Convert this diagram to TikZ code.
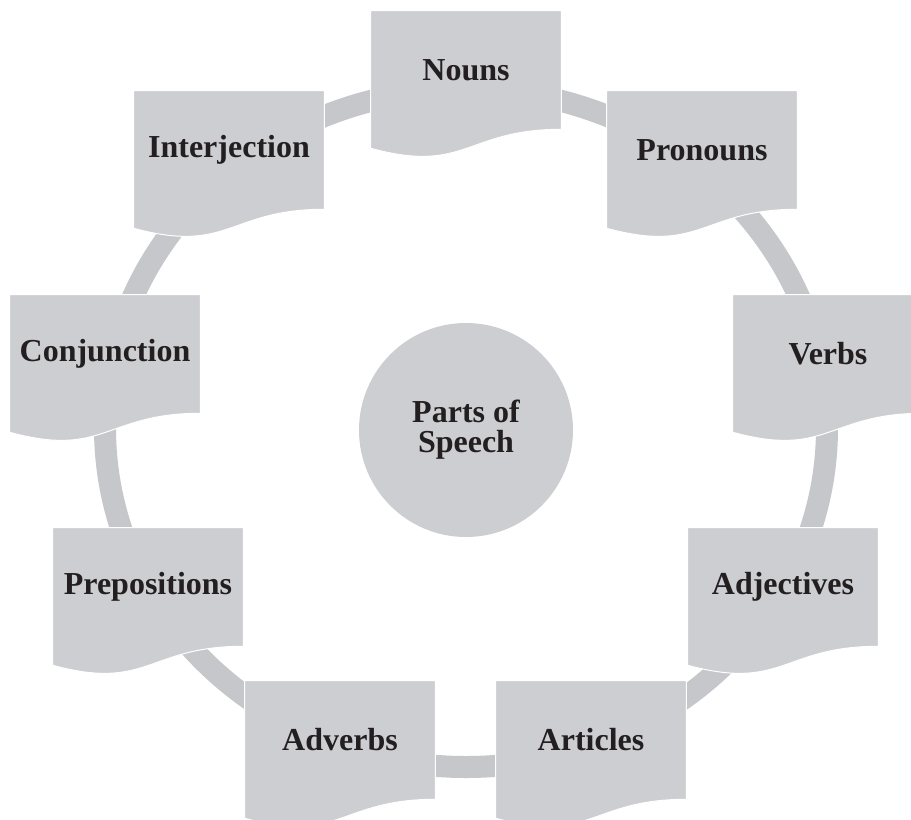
\documentclass[tikz,border=0pt]{standalone}
\usepackage{fontspec}
\setmainfont{Liberation Serif}
\usetikzlibrary{positioning,calc,backgrounds}
\definecolor{boxgray}{RGB}{205,206,209}
\definecolor{ringgray}{RGB}{198,199,202}
\definecolor{inkgray}{RGB}{35,31,32}

\begin{document}
\begin{tikzpicture}[x=0.75pt,y=-0.75pt, text=inkgray,
  font=\fontsize{24}{22.5}\selectfont\bfseries,
  part/.style={minimum width=142.5pt, minimum height=88.5pt, inner sep=0pt},
  hub/.style={circle, fill=boxgray, minimum size=160.5pt, inner sep=0pt, align=center}]
  \useasboundingbox (0,0) rectangle (911,819);
  \node[hub]  (speech) at (466,430) {Parts of\\Speech};
  \node[part] (nouns)  at (466,70)  {Nouns};
  \node[part] (pron)   at (702,150) {Pronouns};
  \node[part] (verbs)  at (828,354) {Verbs};
  \node[part] (adj)    at (783,587) {Adjectives};
  \node[part] (art)    at (591,740) {Articles};
  \node[part] (adv)    at (340,740) {Adverbs};
  \node[part] (prep)   at (148,587) {Prepositions};
  \node[part] (conj)   at (105,354) {Conjunction};
  \node[part] (interj) at (229,150) {Interjection};
  \begin{scope}[on background layer]
    \fill[white] (0,0) rectangle (911,819);
    \draw[ringgray, line width=16.5pt] (466,428) ellipse [x radius=270.75pt, y radius=254.25pt];
    \foreach \n in {nouns,pron,verbs,adj,art,adv,prep,conj,interj}
      \filldraw[boxgray, draw=white, line width=0.75pt] (\n.north west) -- (\n.north east) -- (\n.south east)
        .. controls (\n.south) and ($(\n.south)+(0,45)$) .. ($(\n.south west)+(0,19)$) -- cycle;
  \end{scope}
\end{tikzpicture}
\end{document}
